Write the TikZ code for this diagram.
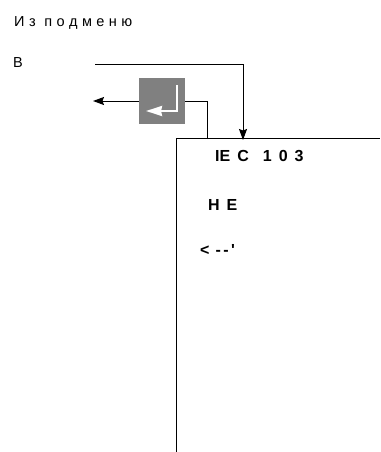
\documentclass[tikz,border=0pt]{standalone}
\usepackage{fontspec}
\setmainfont{Liberation Sans}
\newfontfamily\rawfont{Liberation Sans}
\usepackage{xcolor}
\usetikzlibrary{arrows.meta,positioning}
\definecolor{keygrey}{RGB}{128,128,128}
\newcommand{\widegap}[1]{\spaceskip=#1\relax}
\tikzstyle{arrow} = [line width=1pt,-{Stealth[length=11pt,width=8pt,inset=1.5pt]}]
\tikzstyle{wire} = [line width=1pt]
\tikzstyle{pagelabel} = [inner sep=0pt,anchor=west,font=\fontsize{14.5}{16}\selectfont\widegap{4.4pt}]
\tikzstyle{panellabel} = [inner sep=0pt,anchor=west,font=\fontsize{16}{18}\rawfont\bfseries\widegap{7pt}]

\begin{document}
\begin{tikzpicture}[x=1pt,y=-1pt]
        \useasboundingbox (0,0) rectangle (380,452);
        % Define nodes
        \node[pagelabel] (title) at (14,22.5) {И з\ \ п о д м е н ю};
        \node[pagelabel] (inlabel) at (13,62.5) {В};

        \node[fill=keygrey,
        inner sep=0pt,
        minimum width=46pt,
        minimum height=46pt] (enterkey) at (162,101) {};

        \node[inner sep=0pt,
        minimum width=203pt,
        minimum height=313pt] (panel) at (278.5,295.5) {};

        \node[panellabel] (protocol) at (215,156.5) {IE C\ \ 1 0 3};
        \node[panellabel] (value) at (208,205) {H E};
        \node[panellabel] (back) at (200,250) {<\kern6pt-\kern2.5pt-\kern2.5pt'};

        % free ends
        \coordinate (infeed) at (95,64);
        \coordinate (outfeed) at (93,101);
        \coordinate (hit) at (243,140);
        \coordinate (tap) at (207,139);
        \coordinate (glyphtop) at (177,85);
        \coordinate (glyphend) at (146,111);

        % panel is open towards the page edge
        \draw [wire] (panel.south west) |- (panel.north east);

        \draw [arrow] (infeed) -| (hit);
        \draw [wire] (tap) |- (enterkey.east);
        \draw [arrow] (enterkey.west) -- (outfeed);
        \draw [white,line width=2.3pt,-{Stealth[length=16pt,width=10pt,inset=1pt]}] (glyphtop) |- (glyphend);
\end{tikzpicture}
\end{document}
